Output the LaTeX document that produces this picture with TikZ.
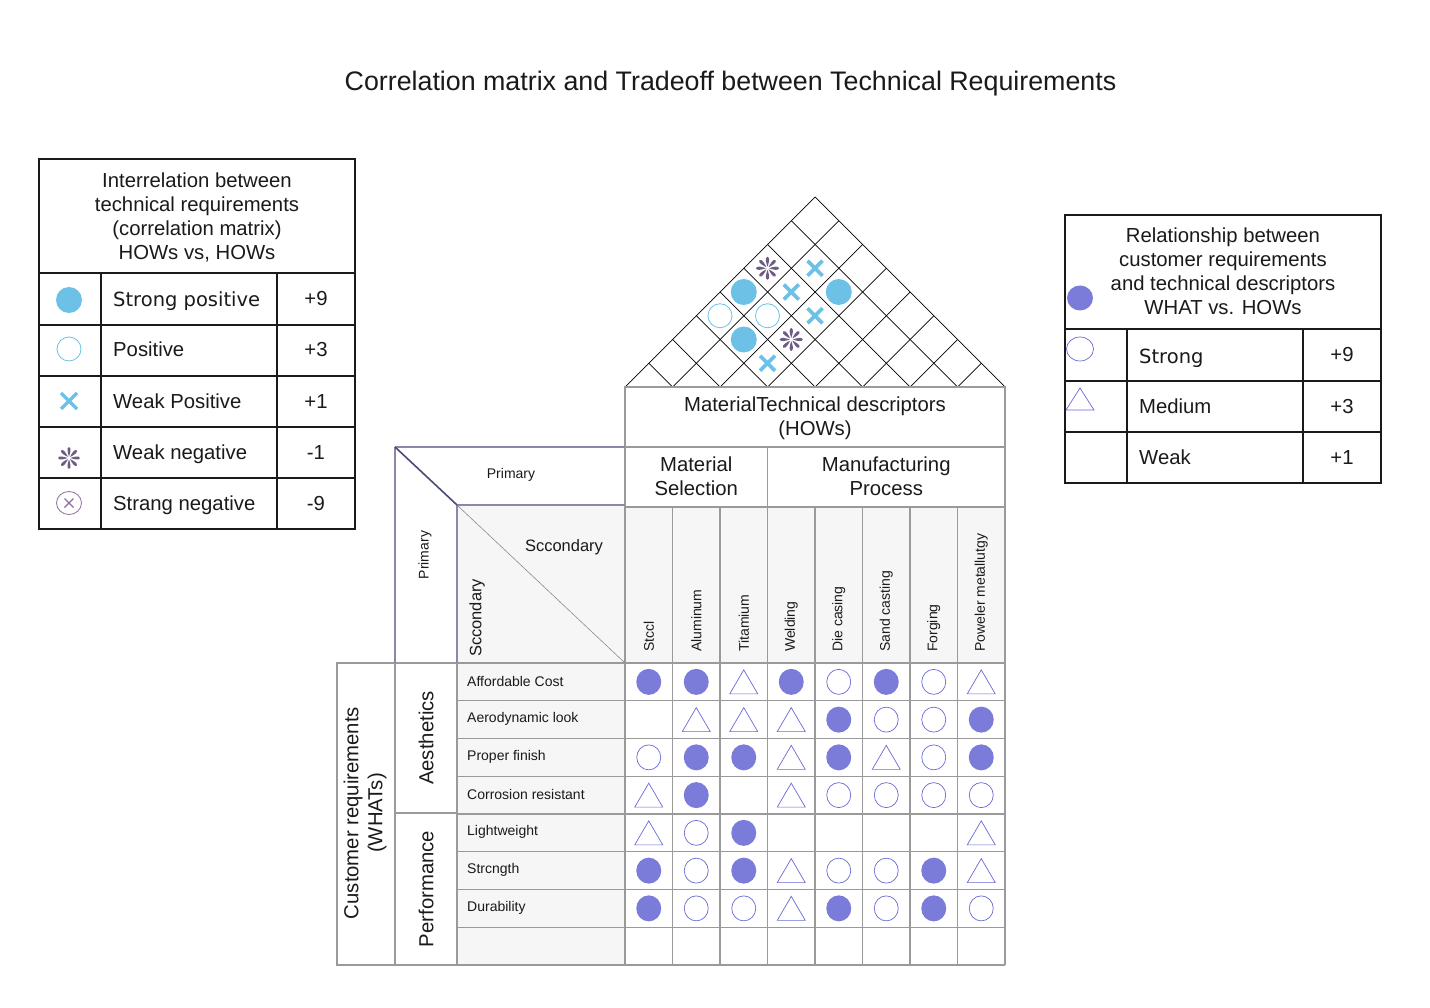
\documentclass[tikz,border=0pt]{standalone}
\usepackage{fontspec}
\setmainfont{Liberation Sans}
\newfontfamily\dvfont{DejaVu Sans}
\definecolor{fillp}{HTML}{7B7BD9}
\definecolor{linep}{HTML}{6A6AD6}
\definecolor{skyb}{HTML}{6EC1E6}
\definecolor{gridg}{HTML}{9A9A9A}
\definecolor{lightbg}{HTML}{F6F6F6}
\definecolor{navy}{HTML}{4A4A78}
\definecolor{astc}{HTML}{55406F}
\definecolor{negc}{HTML}{8E6E9E}
\definecolor{txtc}{HTML}{1A1A1A}
% matrix symbols
\newcommand\symF[2]{\fill[fillp] ({#1},{#2}) ellipse (12.5pt and 13pt);}
\newcommand\symO[2]{\draw[linep, line width=0.7pt] ({#1},{#2}) ellipse (12pt and 12.5pt);}
\newcommand\symT[2]{\begin{scope}[shift={({#1},{#2})}]\draw[linep, line width=0.7pt] (-14,12) -- (0,-12) -- (14,12) -- cycle;\end{scope}}
\newcommand\symN[2]{}
% roof symbols
\newcommand\rS[2]{\fill[skyb] ({#1},{#2}) circle (13pt);}
\newcommand\rP[2]{\draw[skyb, line width=0.8pt] ({#1},{#2}) circle (12pt);}
\newcommand\rX[2]{\begin{scope}[shift={({#1},{#2})}]\draw[skyb, line width=3.6pt] (-7.5,-7.5) -- (7.5,7.5) (-7.5,7.5) -- (7.5,-7.5);\end{scope}}
\newcommand\rA[2]{\begin{scope}[shift={({#1},{#2})}]\foreach \a in {0,45,...,315} \fill[astc, opacity=0.85, rotate=\a] (1.5,0) .. controls (5,1.2) and (11,3) .. (11.5,0) .. controls (11,-3) and (5,-1.2) .. (1.5,0) -- cycle;\end{scope}}
\newcommand\rN[2]{\begin{scope}[shift={({#1},{#2})}]\draw[negc, line width=0.8pt] (0,0) ellipse (12.5pt and 11.5pt); \draw[negc, line width=1.3pt] (-4.5,-4.5) -- (4.5,4.5) (-4.5,4.5) -- (4.5,-4.5);\end{scope}}
\begin{document}
\begin{tikzpicture}[x=1pt,y=-1pt,
  grid/.style={draw=gridg, line width=1.1pt},
  leg/.style={draw=txtc, line width=1.2pt},
  roof/.style={draw=black, line width=0.7pt},
  big/.style={font=\fontsize{20.3}{24}\selectfont, text=txtc, inner sep=0, align=center},
  lucida/.style={font=\dvfont\fontsize{19.5}{24}\selectfont, text=txtc, inner sep=0},
  small/.style={font=\fontsize{14}{17}\selectfont, text=txtc, inner sep=0},
  mid/.style={font=\fontsize{16.5}{20}\selectfont, text=txtc, inner sep=0}]
\useasboundingbox (0,0) rectangle (1430,1008);
\fill[white] (0,0) rectangle (1430,1008);

% title
\node[font=\fontsize{26.8}{30}\selectfont, text=txtc, inner sep=0, anchor=base] (title) at (730.5,90.5) {Correlation matrix and Tradeoff between Technical Requirements};

% ---------- left legend ----------
\draw[leg] (39,159) rectangle (355,529);
\foreach \yy in {273,325,376,427,478} \draw[leg] (39,\yy) -- (355,\yy);
\draw[leg] (101,273) -- (101,529);
\draw[leg] (277,273) -- (277,529);
\node[big] (ltitle) at (197,217) {Interrelation between\\technical requirements\\(correlation matrix)\\HOWs vs, HOWs};
\rS{69}{300}
\rP{69}{349}
\begin{scope}[shift={(69,401)}]\draw[skyb, line width=3.4pt] (-8,-8) -- (8,8) (-8,8) -- (8,-8);\end{scope}
\begin{scope}[shift={(69,458)}, scale=0.95]\foreach \a in {0,45,...,315} \fill[astc, opacity=0.85, rotate=\a] (1.5,0) .. controls (5,1.2) and (11,3) .. (11.5,0) .. controls (11,-3) and (5,-1.2) .. (1.5,0) -- cycle;\end{scope}
\rN{69}{503}
\node[lucida, anchor=base west] (l1) at (113,307) {Strong positive};
\node[big, anchor=base west] (l2) at (113,356) {Positive};
\node[big, anchor=base west] (l3) at (113,408) {Weak Positive};
\node[big, anchor=base west] (l4) at (113,459) {Weak negative};
\node[big, anchor=base west] (l5) at (113,510) {Strang negative};
\node[big, anchor=base] (v1) at (316,306) {+9};
\node[big, anchor=base] (v2) at (316,356) {+3};
\node[big, anchor=base] (v3) at (316,408) {+1};
\node[big, anchor=base] (v4) at (316,459) {-1};
\node[big, anchor=base] (v5) at (316,510) {-9};

% ---------- right legend ----------
\draw[leg] (1065,215) rectangle (1381,483);
\foreach \yy in {329,381,432} \draw[leg] (1065,\yy) -- (1381,\yy);
\draw[leg] (1127,329) -- (1127,483);
\draw[leg] (1303,329) -- (1303,483);
\node[big] (rtitle) at (1223,271.5) {Relationship between\\customer requirements\\and technical descriptors\\WHAT vs. HOWs};
\fill[fillp] (1080,298) ellipse (13pt and 12.5pt);
\draw[linep, line width=0.7pt] (1080,349) ellipse (13.5pt and 12pt);
\draw[linep, line width=0.7pt] (1066,410) -- (1080,388) -- (1094,410) -- cycle;
\node[lucida, anchor=base west] (r1) at (1139,363) {Strong};
\node[big, anchor=base west] (r2) at (1139,413) {Medium};
\node[big, anchor=base west] (r3) at (1139,464) {Weak};
\node[big, anchor=base] (rv1) at (1342,362) {+9};
\node[big, anchor=base] (rv2) at (1342,413) {+3};
\node[big, anchor=base] (rv3) at (1342,464) {+1};

% ---------- fills ----------
\fill[lightbg] (457,663) rectangle (625,965);
\fill[lightbg] (625,507) rectangle (1005,663);
\fill[lightbg] (457,505) rectangle (625,663);

% ---------- roof ----------
\draw[roof] (625,387) -- (815,197) -- (1005,387);
\foreach \i in {1,...,7} {
  \draw[roof] ({625+47.5*\i},387) -- ({625+23.75*\i},{387-23.75*\i});
  \draw[roof] ({625+47.5*\i},387) -- ({815+23.75*\i},{197+23.75*\i});
}
\foreach \i/\j/\t in {1/6/A,2/7/X,1/5/S,2/6/X,3/7/S,1/4/P,2/5/P,3/6/X,2/4/S,3/5/A,3/4/X} {
  \csname r\t\endcsname{625+23.75*(\i+\j-1)}{387-23.75*(\j-\i)}
}

% ---------- header boxes ----------
\draw[grid] (625,387) rectangle (1005,447);
\draw[grid] (625,447) rectangle (1005,507);
\draw[grid] (767.5,447) -- (767.5,507);
\foreach \i in {0,...,8} \draw[grid] ({625+47.5*\i},507) -- ({625+47.5*\i},965);
\foreach \j in {0,...,8} \draw[grid] (457,{663+37.75*\j}) -- (1005,{663+37.75*\j});
\draw[grid] (337,663) rectangle (395,965);
\draw[grid] (395,663) -- (457,663);
\draw[grid] (395,813) -- (457,813);
\draw[grid] (395,965) -- (457,965);
\draw[grid] (395,663) -- (395,965);
\draw[grid] (457,663) -- (457,965);
\draw[grid] (625,663) -- (625,965);
% top-left region
\draw[draw=navy!65, line width=1.1pt] (395,447) -- (625,447);
\draw[draw=navy!65, line width=1.1pt] (395,447) -- (395,663);
\draw[draw=navy!65, line width=1.1pt] (457,505) -- (625,505);
\draw[draw=navy!65, line width=1.1pt] (457,505) -- (457,663);
\draw[draw=navy, line width=1.6pt] (395,447) -- (457,505);
\draw[draw=gridg!90!black, line width=0.6pt] (457,505) -- (625,663);

% header texts
\node[big] (hows) at (815,418) {MaterialTechnical descriptors\\(HOWs)};
\node[big] (matsel) at (696.25,476.5) {Material\\Selection};
\node[big] (manproc) at (886.25,476.5) {Manufacturing\\Process};
\node[small] (prim1) at (511,475) {Primary};
\node[small, rotate=90] (prim2) at (425,555) {Primary};
\node[mid] (sec1) at (564,547) {Sccondary};
\node[mid, rotate=90] (sec2) at (477,618) {Sccondary};
\foreach \lab [count=\c] in {Stccl,Aluminum,Titamium,Welding,Die casing,Sand casting,Forging,Poweler metallutgy} {
  \node[small, rotate=90, anchor=west] (col\c) at ({625+47.5*\c-23.75},652) {\lab};
}
% row side labels
\node[big, rotate=90] (whats) at (365,813) {Customer requirements\\(WHATs)};
\node[big, rotate=90] (aes) at (426,738) {Aesthetics};
\node[big, rotate=90] (perf) at (426,889) {Performance};
\foreach \lab [count=\r] in {Affordable Cost,Aerodynamic look,Proper finish,Corrosion resistant,Lightweight,Strcngth,Durability} {
  \node[small, anchor=west] (row\r) at (467,{663+37.75*\r-19.5}) {\lab};
}

% matrix symbols
\foreach \row [count=\r] in {{F,F,T,F,O,F,O,T},{N,T,T,T,F,O,O,F},{O,F,F,T,F,T,O,F},{T,F,N,T,O,O,O,O},{T,O,F,N,N,N,N,T},{F,O,F,T,O,O,F,T},{F,O,O,T,F,O,F,O}} {
  \foreach \s [count=\c] in \row {
    \csname sym\s\endcsname{625+47.5*\c-23.75}{663+37.75*\r-18.875}
  }
}
\end{tikzpicture}
\end{document}
